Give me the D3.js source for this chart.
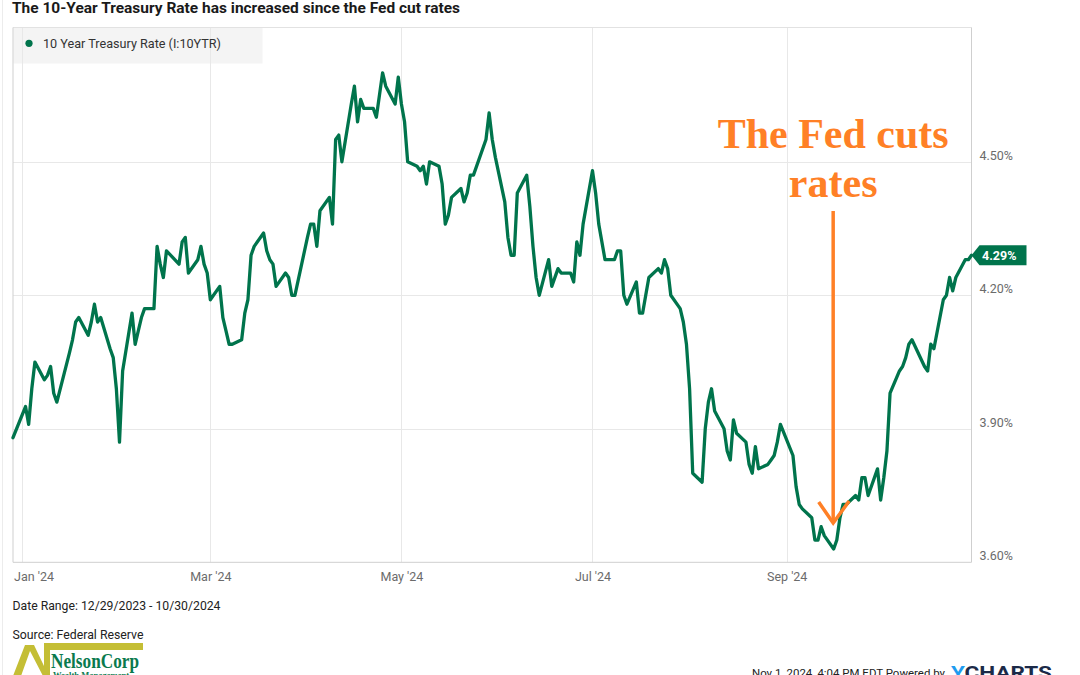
<!DOCTYPE html>
<html>
<head>
<meta charset="utf-8">
<script src="https://cdn.jsdelivr.net/npm/d3@7"></script>
<style>
  html, body { margin: 0; padding: 0; background: #fff; }
  svg { display: block; }
</style>
</head>
<body>
<svg id="chart" width="1080" height="675"></svg>
<script>
// ---------------- DATA ----------------
const seriesName = "10 Year Treasury Rate (I:10YTR)";
const dates = [
  "2023-12-29",
  "2024-01-02","2024-01-03","2024-01-04","2024-01-05","2024-01-08","2024-01-09","2024-01-10","2024-01-11","2024-01-12",
  "2024-01-16","2024-01-17","2024-01-18","2024-01-19","2024-01-22","2024-01-23","2024-01-24","2024-01-25","2024-01-26",
  "2024-01-29","2024-01-30","2024-01-31",
  "2024-02-01","2024-02-02","2024-02-05","2024-02-06","2024-02-07","2024-02-08","2024-02-09","2024-02-12","2024-02-13",
  "2024-02-14","2024-02-15","2024-02-16","2024-02-20","2024-02-21","2024-02-22","2024-02-23","2024-02-26","2024-02-27",
  "2024-02-28","2024-02-29",
  "2024-03-01","2024-03-04","2024-03-05","2024-03-06","2024-03-07","2024-03-08","2024-03-11","2024-03-12","2024-03-13",
  "2024-03-14","2024-03-15","2024-03-18","2024-03-19","2024-03-20","2024-03-21","2024-03-22","2024-03-25","2024-03-26",
  "2024-03-27","2024-03-28",
  "2024-04-01","2024-04-02","2024-04-03","2024-04-04","2024-04-05","2024-04-08","2024-04-09","2024-04-10","2024-04-11",
  "2024-04-12","2024-04-15","2024-04-16","2024-04-17","2024-04-18","2024-04-19","2024-04-22","2024-04-23","2024-04-24",
  "2024-04-25","2024-04-26","2024-04-29","2024-04-30",
  "2024-05-01","2024-05-02","2024-05-03","2024-05-06","2024-05-07","2024-05-08","2024-05-09","2024-05-10","2024-05-13",
  "2024-05-14","2024-05-15","2024-05-16","2024-05-17","2024-05-20","2024-05-21","2024-05-22","2024-05-23","2024-05-24",
  "2024-05-28","2024-05-29","2024-05-30","2024-05-31",
  "2024-06-03","2024-06-04","2024-06-05","2024-06-06","2024-06-07","2024-06-10","2024-06-11","2024-06-12","2024-06-13",
  "2024-06-14","2024-06-17","2024-06-18","2024-06-20","2024-06-21","2024-06-24","2024-06-25","2024-06-26","2024-06-27",
  "2024-06-28",
  "2024-07-01","2024-07-02","2024-07-03","2024-07-05","2024-07-08","2024-07-09","2024-07-10","2024-07-11","2024-07-12",
  "2024-07-15","2024-07-16","2024-07-17","2024-07-18","2024-07-19","2024-07-22","2024-07-23","2024-07-24","2024-07-25",
  "2024-07-26","2024-07-29","2024-07-30","2024-07-31",
  "2024-08-01","2024-08-02","2024-08-05","2024-08-06","2024-08-07","2024-08-08","2024-08-09","2024-08-12","2024-08-13",
  "2024-08-14","2024-08-15","2024-08-16","2024-08-19","2024-08-20","2024-08-21","2024-08-22","2024-08-23","2024-08-26",
  "2024-08-27","2024-08-28","2024-08-29","2024-08-30",
  "2024-09-03","2024-09-04","2024-09-05","2024-09-06","2024-09-09","2024-09-10","2024-09-11","2024-09-12","2024-09-13",
  "2024-09-16","2024-09-17","2024-09-18","2024-09-19","2024-09-20","2024-09-23","2024-09-24","2024-09-25","2024-09-26",
  "2024-09-27","2024-09-30",
  "2024-10-01","2024-10-02","2024-10-03","2024-10-04","2024-10-07","2024-10-08","2024-10-09","2024-10-10","2024-10-11",
  "2024-10-15","2024-10-16","2024-10-17","2024-10-18","2024-10-21","2024-10-22","2024-10-23","2024-10-24","2024-10-25",
  "2024-10-28","2024-10-29","2024-10-30"
];
const rates = [
  3.88,
  3.95,3.91,3.99,4.05,4.01,4.02,4.04,3.98,3.96,
  4.07,4.10,4.14,4.15,4.11,4.14,4.18,4.14,4.15,
  4.08,4.06,3.99,
  3.87,4.03,4.16,4.09,4.12,4.15,4.17,4.17,4.31,
  4.27,4.24,4.30,4.27,4.32,4.33,4.25,4.28,4.31,
  4.27,4.25,
  4.19,4.22,4.15,4.12,4.09,4.09,4.10,4.16,4.19,
  4.29,4.31,4.34,4.30,4.28,4.27,4.22,4.25,4.24,
  4.20,4.20,
  4.33,4.36,4.36,4.31,4.39,4.42,4.36,4.55,4.56,
  4.50,4.63,4.67,4.59,4.64,4.62,4.62,4.60,4.65,
  4.70,4.67,4.63,4.69,
  4.63,4.59,4.50,4.49,4.48,4.49,4.45,4.50,4.49,
  4.45,4.36,4.38,4.42,4.44,4.41,4.43,4.47,4.47,
  4.55,4.61,4.55,4.51,
  4.41,4.33,4.29,4.29,4.43,4.47,4.40,4.31,4.24,
  4.20,4.28,4.22,4.26,4.25,4.25,4.23,4.32,4.29,
  4.36,
  4.48,4.43,4.36,4.28,4.28,4.30,4.30,4.20,4.18,
  4.23,4.16,4.16,4.20,4.24,4.26,4.25,4.28,4.26,
  4.20,4.17,4.14,4.09,
  3.99,3.80,3.78,3.90,3.96,3.99,3.94,3.90,3.85,
  3.83,3.92,3.89,3.87,3.82,3.80,3.86,3.81,3.82,
  3.83,3.84,3.87,3.91,
  3.84,3.77,3.73,3.72,3.70,3.65,3.65,3.68,3.66,
  3.63,3.65,3.70,3.73,3.73,3.75,3.74,3.79,3.79,
  3.75,3.81,
  3.74,3.79,3.85,3.98,4.03,4.04,4.06,4.09,4.10,
  4.04,4.03,4.09,4.08,4.19,4.20,4.24,4.21,4.24,
  4.28,4.28,4.29
];
const yTickValues = [3.60, 3.90, 4.20, 4.50];
const xTickDates = ["2024-01-01","2024-03-01","2024-05-01","2024-07-01","2024-09-01"];
const titleText = "The 10-Year Treasury Rate has increased since the Fed cut rates";
const dateRangeText = "Date Range: 12/29/2023 - 10/30/2024";
const sourceText = "Source: Federal Reserve";
const annotationLines = ["The Fed cuts", "rates"];
const annotationDate = "2024-09-16";

// ---------------- SETUP ----------------
const parse = d3.utcParse("%Y-%m-%d");
const data = dates.map((d, i) => ({ date: parse(d), v: rates[i] }));

const svg = d3.select("#chart");
const W = 1080, H = 675;
const plot = { left: 13, right: 971.5, top: 27.5, bottom: 562.3 };

const GREEN = "#00744c";
const ORANGE = "#ff8026";
const GRID = "#e8e8e8";
const BORDER = "#cfcfcf";
const SANS = "Roboto, 'Noto Sans', Arial, sans-serif";

const x = d3.scaleUtc()
  .domain([parse(dates[0]), parse(dates[dates.length - 1])])
  .range([plot.left, plot.right]);
const y = d3.scaleLinear()
  .domain([3.6, 4.8])
  .range([plot.bottom, plot.bottom - 1.2 * 445]);

// faint outer frame at left edge
svg.append("line").attr("x1", 2.5).attr("x2", 2.5).attr("y1", 0).attr("y2", H)
  .attr("stroke", "#ececec").attr("stroke-width", 1);

// Title
svg.append("text")
  .attr("x", 12).attr("y", 12.7)
  .attr("font-family", SANS).attr("font-weight", 700).attr("font-size", 15.5)
  .attr("fill", "#1a1a1a")
  .attr("textLength", 448).attr("lengthAdjust", "spacingAndGlyphs")
  .text(titleText);

// Legend background (under gridlines)
svg.append("rect")
  .attr("x", plot.left + 0.5).attr("y", plot.top)
  .attr("width", 249).attr("height", 36)
  .attr("fill", "#f4f4f4");

// Gridlines
const gridG = svg.append("g");
gridG.selectAll("line.h")
  .data(yTickValues.filter(v => v > 3.6))
  .join("line")
  .attr("x1", plot.left).attr("x2", plot.right)
  .attr("y1", d => Math.round(y(d)) + 0.5).attr("y2", d => Math.round(y(d)) + 0.5)
  .attr("stroke", GRID).attr("stroke-width", 1);
gridG.selectAll("line.v")
  .data(xTickDates.map(parse))
  .join("line")
  .attr("x1", d => Math.round(x(d)) + 0.5).attr("x2", d => Math.round(x(d)) + 0.5)
  .attr("y1", plot.top).attr("y2", plot.bottom)
  .attr("stroke", GRID).attr("stroke-width", 1);

// Plot border
svg.append("line").attr("x1", plot.left).attr("x2", plot.right)
  .attr("y1", plot.top).attr("y2", plot.top).attr("stroke", "#e2e2e2");
svg.append("line").attr("x1", plot.left).attr("x2", plot.left)
  .attr("y1", plot.top).attr("y2", plot.bottom).attr("stroke", BORDER);
svg.append("line").attr("x1", plot.right).attr("x2", plot.right)
  .attr("y1", plot.top).attr("y2", plot.bottom).attr("stroke", BORDER);
svg.append("line").attr("x1", plot.left).attr("x2", plot.right)
  .attr("y1", plot.bottom).attr("y2", plot.bottom).attr("stroke", BORDER);

// Legend
svg.append("circle").attr("cx", 29).attr("cy", 43.3).attr("r", 3.6).attr("fill", GREEN);
svg.append("text")
  .attr("x", 43).attr("y", 48.3)
  .attr("font-family", SANS).attr("font-size", 13.5).attr("fill", "#333")
  .attr("textLength", 178).attr("lengthAdjust", "spacingAndGlyphs")
  .text(seriesName);

// Y axis (right)
const yAxis = d3.axisRight(y)
  .tickValues(yTickValues)
  .tickSize(0)
  .tickPadding(0)
  .tickFormat(d => d3.format(".2f")(d) + "%");
const yAxisG = svg.append("g")
  .attr("transform", `translate(${plot.right + 8},0)`)
  .call(yAxis);
yAxisG.select(".domain").remove();
yAxisG.selectAll("text")
  .attr("font-family", SANS).attr("font-size", 12.5).attr("fill", "#6b6b6b")
  .attr("dy", null).attr("y", -2.5);

// X axis
const xAxis = d3.axisBottom(x)
  .tickValues(xTickDates.map(parse))
  .tickSize(0)
  .tickPadding(0)
  .tickFormat(d3.utcFormat("%b '%y"));
const xAxisG = svg.append("g")
  .attr("transform", `translate(0,${plot.bottom})`)
  .call(xAxis);
xAxisG.select(".domain").remove();
xAxisG.selectAll("text")
  .attr("font-family", SANS).attr("font-size", 12.5).attr("fill", "#6b6b6b")
  .attr("dy", null).attr("y", 19);
// first label kept inside the chart (left-aligned)
xAxisG.selectAll(".tick").filter((d, i) => i === 0).select("text")
  .attr("text-anchor", "start")
  .attr("x", plot.left - x(parse(xTickDates[0])) + 0.5);

// Series line
const line = d3.line().x(d => x(d.date)).y(d => y(d.v));
svg.append("path")
  .datum(data)
  .attr("d", line)
  .attr("fill", "none")
  .attr("stroke", GREEN)
  .attr("stroke-width", 3.3)
  .attr("stroke-linejoin", "round")
  .attr("stroke-linecap", "round");

// Last value tag
const last = data[data.length - 1];
const ty = y(last.v);
const tx = x(last.date);
svg.append("path")
  .attr("d", `M${tx},${ty} L${tx + 8},${ty - 10} L${tx + 55},${ty - 10} L${tx + 55},${ty + 10} L${tx + 8},${ty + 10} Z`)
  .attr("fill", GREEN);
svg.append("text")
  .attr("x", tx + 10.5).attr("y", ty + 4.5)
  .attr("font-family", SANS).attr("font-weight", 700).attr("font-size", 12.5)
  .attr("fill", "#fff")
  .text(d3.format(".2f")(last.v) + "%");

// Annotation
const annX = x(parse(annotationDate));
const annG = svg.append("g")
  .attr("font-family", "'Liberation Serif', 'Times New Roman', serif")
  .attr("font-weight", 700).attr("font-size", 42).attr("fill", ORANGE)
  .attr("text-anchor", "middle");
annG.append("text").attr("x", annX - 0.5).attr("y", 148.3).text(annotationLines[0]);
annG.append("text").attr("x", annX - 0.5).attr("y", 196.5).text(annotationLines[1]);

const tipY = 523;
svg.append("line")
  .attr("x1", annX - 0.5).attr("x2", annX - 0.5)
  .attr("y1", 211).attr("y2", tipY - 2)
  .attr("stroke", ORANGE).attr("stroke-width", 3.5);
svg.append("path")
  .attr("d", `M${annX - 15},${tipY - 21} L${annX - 0.5},${tipY} L${annX + 15.5},${tipY - 22}`)
  .attr("fill", "none").attr("stroke", ORANGE).attr("stroke-width", 3.5)
  .attr("stroke-linejoin", "miter");

// Footer texts
svg.append("text")
  .attr("x", 12.5).attr("y", 610)
  .attr("font-family", SANS).attr("font-size", 13).attr("fill", "#222")
  .attr("textLength", 208).attr("lengthAdjust", "spacingAndGlyphs")
  .text(dateRangeText);
svg.append("text")
  .attr("x", 12.5).attr("y", 639)
  .attr("font-family", SANS).attr("font-size", 13).attr("fill", "#222")
  .attr("textLength", 131).attr("lengthAdjust", "spacingAndGlyphs")
  .text(sourceText);

// NelsonCorp logo
const logo = svg.append("g");
const YEL = "#c4be35";
logo.append("path")
  .attr("d", "M13,676 L25,645 L34,645 L44,666 L44,643 L143,643 L143,650 L50,650 L50,676 L43,676 L30,651 L21,676 Z")
  .attr("fill", YEL);
logo.append("text")
  .attr("x", 51).attr("y", 668)
  .attr("font-family", "'Liberation Serif', 'Times New Roman', serif")
  .attr("font-weight", 700).attr("font-size", 20).attr("fill", "#0a7a4e")
  .attr("textLength", 88).attr("lengthAdjust", "spacingAndGlyphs")
  .text("NelsonCorp");
logo.append("text")
  .attr("x", 53).attr("y", 678)
  .attr("font-family", "'Liberation Serif', 'Times New Roman', serif")
  .attr("font-weight", 700).attr("font-size", 9).attr("fill", "#0a7a4e")
  .attr("textLength", 76).attr("lengthAdjust", "spacingAndGlyphs")
  .text("Wealth Management");

// Bottom-right stamp
svg.append("text")
  .attr("x", 752).attr("y", 676.5)
  .attr("font-family", SANS).attr("font-size", 11.8).attr("fill", "#222")
  .attr("textLength", 193).attr("lengthAdjust", "spacingAndGlyphs")
  .text("Nov 1, 2024, 4:04 PM EDT Powered by");
const yc = svg.append("text")
  .attr("x", 951).attr("y", 679)
  .attr("font-family", SANS).attr("font-weight", 700).attr("font-size", 18)
  .attr("textLength", 101).attr("lengthAdjust", "spacingAndGlyphs");
yc.append("tspan").attr("fill", "#1e9cf0").text("Y");
yc.append("tspan").attr("fill", "#1b2a48").text("CHARTS");
</script>
</body>
</html>
